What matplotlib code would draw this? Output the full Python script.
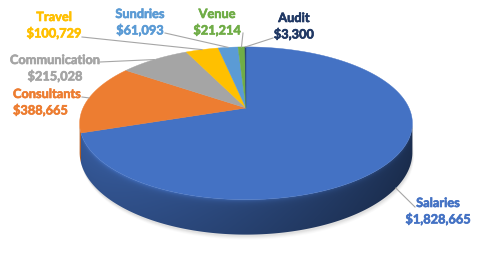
import numpy as np
import matplotlib
matplotlib.use("Agg")
import matplotlib.pyplot as plt
import matplotlib.patheffects as pe
from matplotlib.patches import Polygon
from matplotlib.colors import to_rgb

# ---- data ----
categories = ["Salaries", "Consultants", "Communication", "Travel", "Sundries", "Venue", "Audit"]
values = [1828665, 388665, 215028, 100729, 61093, 21214, 3300]
slice_colors = ["#4472C4", "#ED7D31", "#A5A5A5", "#FFC000", "#5B9BD5", "#70AD47", "#264478"]
label_colors = ["#4472C4", "#ED7D31", "#A5A5A5", "#FFC000", "#5B9BD5", "#70AD47", "#203864"]

# ---- layout (pixel space) ----
W, H = 495, 258
cx, cy = 246.0, 108.0      # pie apex
a, b = 163.0, 73.3         # ellipse radii
k = 0.2                    # perspective strength
h = 28.0                   # thickness

# label positions: (x, y of first line, ha), leader start
label_pos = {
    "Salaries": (438, 203, "center", (415, 207)),
    "Consultants": (13, 94, "left", (82, 97)),
    "Communication": (55, 60, "center", (100, 62)),
    "Travel": (54, 17, "center", (82, 37)),
    "Sundries": (140, 14, "center", (165, 33)),
    "Venue": (217, 14, "center", (243, 33)),
    "Audit": (294, 18, "center", (273, 38)),
}

def proj(theta_deg, z=0.0):
    t = np.radians(theta_deg)
    X, Y = np.cos(t), np.sin(t)
    s = 1.0 / (1.0 + k * Y)
    return cx + a * X * s, cy - b * Y * s + z * h * s

fig = plt.figure(figsize=(W / 100, H / 100), dpi=100)
ax = fig.add_axes([0, 0, 1, 1])
ax.set_xlim(0, W)
ax.set_ylim(H, 0)
ax.axis("off")

vals = np.array(values, dtype=float)
cum = np.cumsum(vals) / vals.sum() * 360.0
starts = 90.0 - np.concatenate([[0.0], cum[:-1]])
ends = 90.0 - cum

t_left = -180.0 + np.degrees(np.arcsin(k))   # leftmost visible
t_right = -np.degrees(np.arcsin(k))          # rightmost visible

# ---- soft shadow ----
tt = np.linspace(t_right, t_left, 200)
for off, al in [(5, 0.04), (4, 0.05), (3, 0.07), (2, 0.09)]:
    bx, by = proj(tt, 1.0)
    tx, ty = proj(tt[::-1], 0.0)
    ax.fill(np.concatenate([bx + off * 0.3, tx]), np.concatenate([by + off, ty]),
            color="#808080", alpha=al, lw=0, zorder=1)

# ---- sides (smooth shaded, clipped) ----
tf = np.linspace(t_left, t_right, 400)
fx, fy_top = proj(tf, 0.0)
_, fy_bot = proj(tf, 1.0)
x0, x1 = fx.min() - 2, fx.max() + 2
y0, y1 = fy_top.min() - 2, fy_bot.max() + 2
nx, ny = 420, 160
gx = np.linspace(x0, x1, nx)
gy = np.linspace(y0, y1, ny)
GX, GY = np.meshgrid(gx, gy)
top_i = np.interp(gx, fx, fy_top)
bot_i = np.interp(gx, fx, fy_bot)
Z = np.clip((GY - top_i[None, :]) / (bot_i - top_i)[None, :], 0, 1)
U = np.clip((GX - fx.min()) / (fx.max() - fx.min()), 0, 1)
shade = (0.80 - 0.38 * U) * (1.0 + 0.35 * np.exp(-Z / 0.07) - 0.08 * Z)

for st, en, col in zip(starts, ends, slice_colors):
    hi = min(st, t_right)
    lo = max(en, t_left)
    if lo >= hi:
        continue
    th = np.linspace(hi, lo, 200)
    tx, ty = proj(th, 0.0)
    bx, by = proj(th[::-1], 1.0)
    poly = Polygon(np.column_stack([np.concatenate([tx, bx]), np.concatenate([ty, by])]),
                   closed=True, fc="none", ec="none", transform=ax.transData)
    ax.add_patch(poly)
    base = np.array(to_rgb(col))
    img = np.clip(shade[..., None] * base[None, None, :], 0, 1)
    im = ax.imshow(img, extent=(x0, x1, y1, y0), origin="upper", interpolation="bilinear",
                   zorder=2, aspect="auto")
    im.set_clip_path(poly)
ax.set_xlim(0, W)
ax.set_ylim(H, 0)

# ---- top faces ----
for st, en, col in zip(starts, ends, slice_colors):
    n = max(3, int((st - en) * 2))
    th = np.linspace(st, en, n)
    x, y = proj(th)
    ax.fill(np.concatenate([[cx], x]), np.concatenate([[cy], y]), color=col, lw=0.3,
            ec=col, zorder=3)

# ---- labels and leader lines ----
for cat, v, st, en, lc in zip(categories, values, starts, ends, label_colors):
    lx, ly, ha, (sx, sy) = label_pos[cat]
    mid = (st + en) / 2
    if t_left < mid < t_right:
        ex, ey = proj(mid, 1.0)
    else:
        ex, ey = proj(mid, 0.0)
    ax.plot([sx, ex], [sy, ey], color="#A6A6A6", lw=0.8, zorder=5)
    kw = dict(ha=ha, va="center", fontsize=9.2, fontweight="bold", color=lc,
              family=["Lato", "DejaVu Sans"], parse_math=False, zorder=6,
              path_effects=[pe.withStroke(linewidth=0.45, foreground=lc)])
    ax.text(lx, ly, cat, **kw)
    ax.text(lx, ly + 16, f"${v:,}", **kw)

fig.savefig("out.png", dpi=100, facecolor="white")
